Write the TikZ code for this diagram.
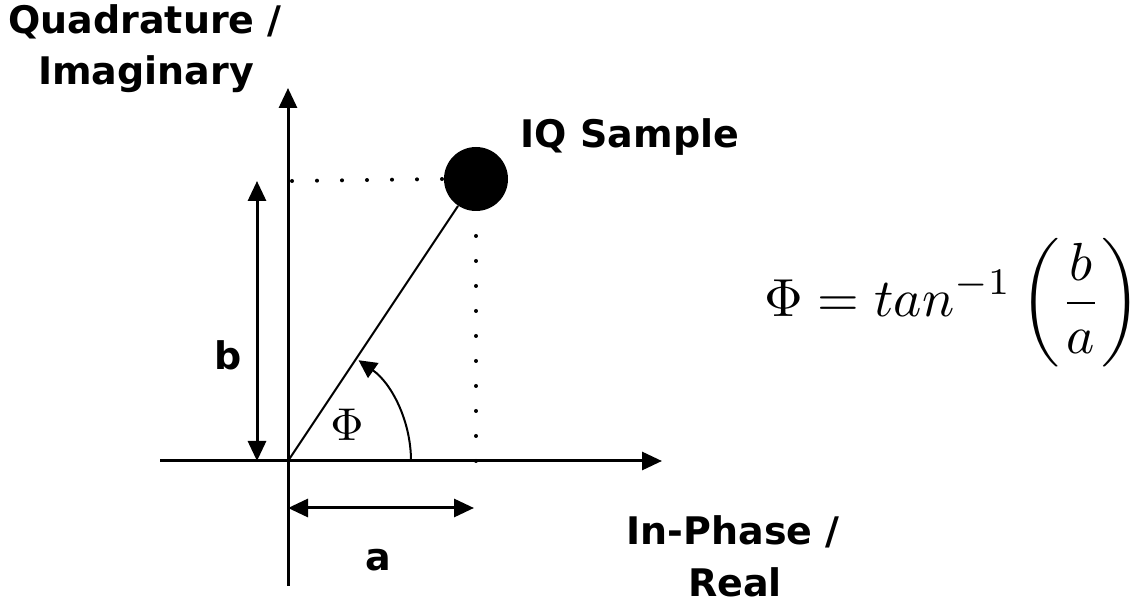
\documentclass[tikz,border=0pt]{standalone}
\usepackage{fontspec}
\setmainfont{DejaVu Sans}
\usetikzlibrary{arrows.meta}
\begin{document}
\begin{tikzpicture}[x=0.5pt,y=-0.5pt,
  lbl/.style={font=\fontsize{19}{22}\selectfont\bfseries, inner sep=0pt},
  axis/.style={line width=1.5pt, -{Triangle[length=10pt,width=9pt]}},
  dim/.style={line width=1.5pt, {Triangle[length=10pt,width=9pt]}-{Triangle[length=10pt,width=9pt]}},
  dotline/.style={line width=2pt, dash pattern=on 0.01pt off 12.49pt, line cap=round}]
\useasboundingbox (0,0) rectangle (1148,604);
% coordinates
\coordinate (O) at (288,461);
\coordinate (ytop) at (288,88);
\coordinate (ybot) at (288,586);
\coordinate (xleft) at (160,461);
\coordinate (xright) at (662,461);
\coordinate (btop) at (257,181);
\coordinate (bbot) at (257,461);
\coordinate (aleft) at (288,508);
\coordinate (aright) at (474,508);
\coordinate (hd) at (292,181);
\coordinate (vd) at (476,461);
% axes
\draw[axis] (ybot) -- (ytop);
\draw[axis] (xleft) -- (xright);
% sample
\node[circle, fill=black, minimum size=32pt, inner sep=0pt] (S) at (476,179) {};
% dotted projections
\draw[dotline] (hd) -- (S.west);
\draw[dotline] (vd) -- (S.south);
% vector
\draw[line width=1pt] (O) -- (S);
% angle arc
\draw[line width=1pt, -{Triangle[length=9pt,width=9pt]}] (411,461) arc[start angle=0, end angle=-55, radius=123];
% dimension arrows
\draw[dim] (btop) -- (bbot);
\draw[dim] (aleft) -- (aright);
% labels
\node[lbl] (ql) at (145,22) {Quadrature /};
\node[lbl] (il) at (146,74) {Imaginary};
\node[lbl] (iq) at (630,137) {IQ Sample};
\node[lbl] (bl) at (228,355) {b};
\node[lbl] (al) at (378,560) {a};
\node[lbl] (ipl) at (733,532) {In-Phase /};
\node[lbl] (rl) at (735,582) {Real};
\node[inner sep=0pt] (phi) at (347,425) {\scalebox{2.3}{$\Phi$}};
\node[inner sep=0pt, anchor=west] (eq) at (764,303) {\scalebox{2.68}{$\displaystyle \Phi = tan^{-1}\left(\frac{b}{a}\right)$}};
\end{tikzpicture}
\end{document}
